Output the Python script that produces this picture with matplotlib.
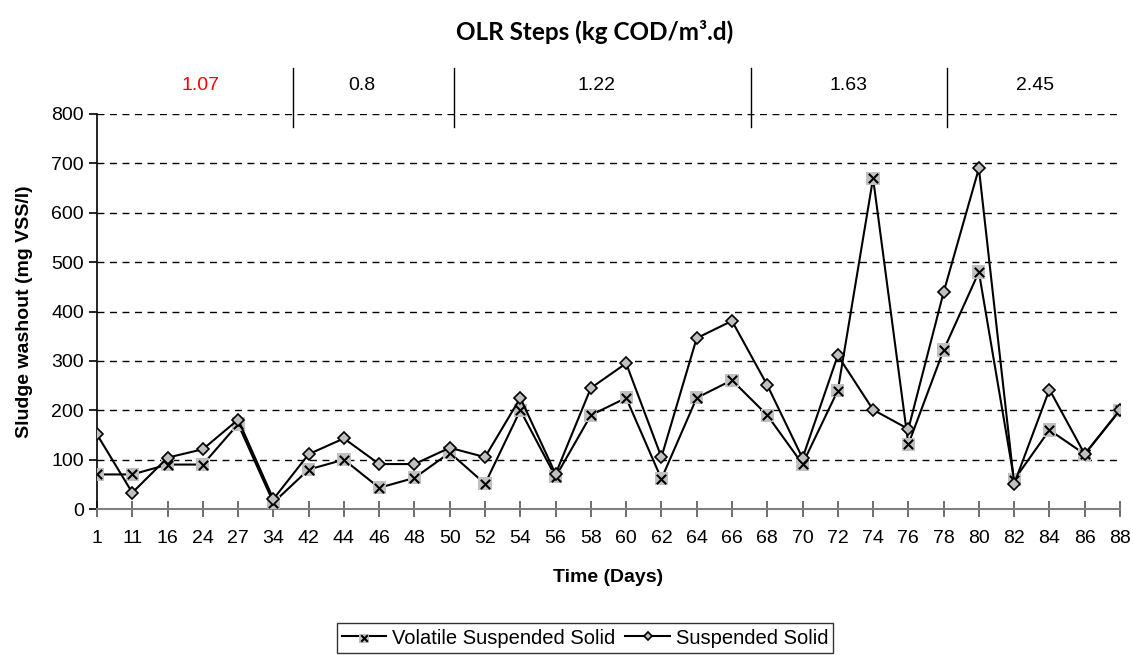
import numpy as np
import matplotlib.pyplot as plt
from matplotlib.legend_handler import HandlerTuple

plt.rcParams['font.family'] = ['Liberation Sans', 'DejaVu Sans']

days = ['1', '11', '16', '24', '27', '34', '42', '44', '46', '48', '50', '52', '54', '56', '58',
        '60', '62', '64', '66', '68', '70', '72', '74', '76', '78', '80', '82', '84', '86', '88']
vss = [70, 70, 90, 90, 172, 13, 80, 100, 43, 63, 114, 51, 200, 65, 190,
       225, 61, 225, 261, 190, 91, 240, 670, 131, 322, 480, 59, 160, 111, 200]
ss = [151, 33, 104, 121, 181, 20, 111, 143, 91, 91, 124, 105, 225, 71, 245,
      295, 105, 346, 381, 251, 103, 311, 201, 162, 439, 690, 51, 242, 111, 201]

# OLR steps: boundaries (category index) and labels
olr_bounds = [5.55, 10.12, 18.55, 24.1]
olr_labels = ['1.07', '0.8', '1.22', '1.63', '2.45']
olr_label_x = [2.93, 7.52, 14.15, 21.3, 26.6]

fig = plt.figure(figsize=(11.33, 6.55), dpi=100)
ax = fig.add_axes([97/1133, 1-509/655, 1023/1133, 395/655])

silver = '#c0c0c0'
fs = 14
l1, = ax.plot(days, vss, color='black', lw=1.5, zorder=3)
m1 = ax.scatter(days, vss, marker='s', s=90, color=silver, edgecolors='none', zorder=4)
m1x = ax.scatter(days, vss, marker='x', s=45, color='black', linewidths=1.5, zorder=5)
l2, = ax.plot(days, ss, color='black', lw=1.5, marker='D', ms=6.5, mfc=silver, mec='black',
              mew=1.2, zorder=6)

ax.set_ylim(0, 800)
ax.set_xlim(0, 29)
ax.set_yticks(np.arange(0, 801, 100))
ax.yaxis.grid(True, color='black', linestyle=(0, (5, 4)), lw=1)
ax.set_axisbelow(True)
for s in ['top', 'right']:
    ax.spines[s].set_visible(False)
ax.spines['bottom'].set_color('#808080')
ax.spines['bottom'].set_linewidth(1.5)
ax.spines['left'].set_linewidth(1.2)
ax.tick_params(axis='x', direction='inout', length=12, width=1.2, color='#555555',
               labelsize=fs, pad=9)
ax.tick_params(axis='y', direction='out', length=6, width=1.2, labelsize=fs)

ax.set_xlabel('Time (Days)', fontsize=fs, fontweight='bold', labelpad=16)
ax.set_ylabel('Sludge washout (mg VSS/l)', fontsize=fs, fontweight='bold', labelpad=13)

# OLR steps annotation above plot
tr = ax.get_xaxis_transform()
for b in olr_bounds:
    ax.plot([b, b], [0.967, 1.116], transform=tr, color='black', lw=1, clip_on=False)
for i, (lx, lab) in enumerate(zip(olr_label_x, olr_labels)):
    ax.text(lx, 1.073, lab, transform=tr, ha='center', va='center', fontsize=fs,
            color='red' if i == 0 else 'black')

fig.text(595/1133, 1-32/655, 'OLR Steps (kg COD/m³.d)', ha='center', va='center',
         fontsize=17.5, fontweight='bold', family=['Lato', 'Liberation Sans'])

leg = fig.legend([(l1, m1, m1x), l2], ['Volatile Suspended Solid', 'Suspended Solid'],
                 handler_map={tuple: HandlerTuple(ndivide=1)},
                 loc='center', bbox_to_anchor=(585/1133, 1-638/655), ncol=2,
                 fontsize=14.5, frameon=True, fancybox=False, edgecolor='black',
                 handlelength=2.2, handletextpad=0.3, columnspacing=0.5,
                 borderpad=0.25, borderaxespad=0, markerscale=0.7)
leg.get_frame().set_linewidth(1)

fig.savefig('out.png', dpi=100)
